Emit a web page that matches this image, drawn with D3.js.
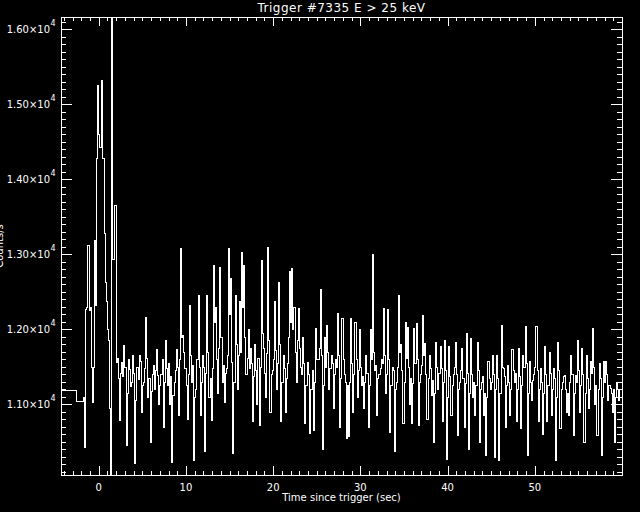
<!DOCTYPE html>
<html>
<head>
<meta charset="UTF-8">
<script src="https://d3js.org/d3.v7.min.js"></script>
<style>
  body { margin:0; background:#000; }
  svg text { fill:#fff; font-family:"DejaVu Sans", sans-serif; }
</style>
</head>
<body>
<svg></svg>
<script>
// pre-trigger coarse bins (edges in sec, rates)
var coarseEdges = [-4.33, -2.62, -1.8];
var coarseRates = [11185, 11043];

// fine bins start at binStart, each binWidth sec
var binStart = -1.8;
var binWidth = 0.125;
var rates = [
  // burst
  11100, 10430, 12270, 12300, 13120, 12250, 12300, 11500, 11030, 11500,
  13190, 12320, 14280, 15250, 14600, 14430, 15320, 14280, 14280, 13280,
  12630, 12370, 12000, 11860, 10950, 9500, 17000, 12930, 13660, 13660,
  11560,
  // 2 - 11 s
  11610, 11350, 10790, 11420, 11560, 11380, 11790, 11500, 10460, 11150,
  11600, 11470, 11240, 11300, 11650, 11420, 10210, 11050, 11500, 11330,
  11650, 11580, 10900, 11250, 11300, 11480, 12160, 11620, 11100, 11350,
  10500, 11180, 11400, 11520, 11200, 11450, 11740, 11390, 11000, 11260,
  11400, 11600, 10700, 11300, 11850, 11480, 11250, 11550, 11000, 11380,
  10230, 11120, 11300, 11450, 11740, 11500, 10850, 11600, 13080, 11900,
  11920, 11700, 11480, 11250, 10800, 11400, 12320, 11650, 11300, 11520,
  10250, 11100, 11200, 11600, 12450, 11500, 10850, 11300,
  // 11 - 28 s
  11660, 11500, 10370, 11420, 12460, 11700, 11100, 11350, 10790, 11480,
  12860, 12100, 12300, 11600, 11150, 11750, 12830, 11900, 11300, 11520,
  11030, 11420, 11480, 11650, 13080, 12200, 12680, 11560, 10350, 11300,
  12460, 11800, 11200, 11650, 12370, 11700, 13030, 12300, 12850, 11900,
  11400, 11620, 12000, 11480, 11750, 11550, 10770, 11380, 11800, 11450,
  11000, 11620, 10720, 11500, 12920, 11950, 11750, 11420, 11100, 11680,
  13100, 11850, 10900, 11400, 11450, 11600, 12370, 11720, 11200, 11550,
  12630, 11800, 10770, 11300, 11660, 11480, 10900, 11350, 11550, 11900,
  12770, 12100, 12810, 12000, 12300, 11700, 11300, 11850, 12280, 11750,
  11500, 11400, 11900, 11550, 10750, 11250, 11560, 11400, 10610, 11200,
  11200, 11450, 10660, 11300, 12010, 11600, 11600, 11750, 12540, 11650,
  10400, 11250, 11900, 11500, 12050, 11700, 11200, 11480, 11650, 11550,
  10950, 11400, 11600, 11500, 12210, 11650, 10700, 11350, 12150, 11600,
  11400, 11300, 10550, 11250,
  // 28 - 44 s
  10570, 11300, 12150, 11550, 10900, 11400, 12100, 11600, 11100, 11450,
  12000, 11500, 11250, 11380, 10950, 11300, 11650, 11420, 10700, 11250,
  12000, 11600, 13000, 11700, 11450, 11520, 10850, 11350, 11400, 11480,
  11600, 11550, 12280, 11650, 11150, 11400, 12270, 11600, 10630, 11250,
  11500, 11450, 10370, 11200, 11300, 11500, 12460, 11700, 11800, 11450,
  10750, 11300, 12100, 11620, 12030, 11500, 11000, 11350, 10750, 11280,
  12010, 11550, 12080, 11600, 10720, 11300, 11400, 11520, 12190, 11650,
  11820, 11400, 10800, 11350, 11650, 11480, 11120, 11320, 10500, 11150,
  11830, 11500, 11200, 11420, 11780, 11480, 10780, 11300, 11850, 11450,
  10270, 11100, 11780, 11380, 10850, 11250, 11400, 11500, 11830, 11400,
  10590, 11200, 11300, 11450, 11750, 11350, 10700, 11280, 11950, 11420,
  10400, 11150, 11880, 11400, 11100, 11300, 10850, 11250, 11830, 11450,
  10500, 11200, 11300, 11380, 10860, 11150, 10320, 11100, 11570, 11350,
  11200, 11300,
  // 44 - 60 s
  11650, 11400, 10300, 11200, 11660, 11350, 10250, 11150, 12050, 11500,
  11480, 11380, 10700, 11250, 11520, 11300, 10860, 11200, 11740, 11450,
  11300, 11420, 10770, 11200, 11750, 11380, 10680, 11250, 11650, 11500,
  12040, 11550, 10320, 11150, 11570, 11300, 11050, 11320, 11400, 11500,
  12040, 11450, 10770, 11200, 11480, 11300, 10600, 11150, 11770, 11400,
  10770, 11250, 11700, 11420, 10860, 11200, 11480, 11350, 10260, 11100,
  11830, 11450, 10680, 11200, 11300, 11380, 11390, 11200, 10900, 11150,
  10860, 11300, 11650, 11400, 10590, 11150, 11390, 11300, 11850, 11450,
  10900, 11250, 11750, 11400, 10500, 11150, 11650, 11350, 10950, 11200,
  11570, 11420, 12010, 11500, 11000, 11250, 10590, 11200, 11550, 11350,
  10320, 11100, 11570, 11300, 11570, 11400, 11050, 11250, 11210, 11150,
  10900, 11200, 10500, 11100, 11300, 11200, 11050, 11200
];

var xDomain = [-4.33, 60.0];
var yDomain = [10056, 16160];
var xMajor = [0, 10, 20, 30, 40, 50];
var yMajor = [11000, 12000, 13000, 14000, 15000, 16000];
var yLabels = ["1.10", "1.20", "1.30", "1.40", "1.50", "1.60"];

var width = 640, height = 512;
var pL = 61, pR = 622, pT = 17, pB = 475;

var svg = d3.select("svg").attr("width", width).attr("height", height);
svg.append("rect").attr("width", width).attr("height", height).attr("fill", "#000");

var x = d3.scaleLinear().domain(xDomain).range([pL, pR]);
var y = d3.scaleLinear().domain(yDomain).range([pB, pT]);

// build step points
var pts = [];
coarseRates.forEach(function(r, i) { pts.push([coarseEdges[i], r]); });
rates.forEach(function(r, i) { pts.push([binStart + i * binWidth, r]); });
pts.push([xDomain[1], rates[rates.length - 1]]);

svg.append("clipPath").attr("id", "clip")
  .append("rect").attr("x", pL).attr("y", pT)
  .attr("width", pR - pL).attr("height", pB - pT);

var line = d3.line()
  .x(function(d) { return Math.round(x(d[0])) + 0.5; })
  .y(function(d) { return Math.round(y(d[1])) + 0.5; })
  .curve(d3.curveStepAfter);

svg.append("path")
  .datum(pts)
  .attr("clip-path", "url(#clip)")
  .attr("fill", "none")
  .attr("stroke", "#fff")
  .attr("stroke-width", 1)
  .attr("shape-rendering", "crispEdges")
  .attr("d", line);

// frame
svg.append("rect")
  .attr("x", pL + 0.5).attr("y", pT + 0.5)
  .attr("width", pR - pL).attr("height", pB - pT)
  .attr("fill", "none").attr("stroke", "#fff").attr("shape-rendering", "crispEdges");

// x ticks (top and bottom, inward)
var xMinor = d3.range(-4, 61, 1);
var tg = svg.append("g").attr("stroke", "#fff").attr("shape-rendering", "crispEdges");
xMinor.forEach(function(t) {
  var len = (t % 10 === 0) ? 9 : 4;
  var px = Math.round(x(t)) + 0.5;
  tg.append("line").attr("x1", px).attr("x2", px).attr("y1", pB).attr("y2", pB - len);
  tg.append("line").attr("x1", px).attr("x2", px).attr("y1", pT).attr("y2", pT + len);
});
// y ticks (left and right, inward)
var yMinor = d3.range(10100, 16200, 100);
yMinor.forEach(function(v) {
  var len = (v % 1000 === 0) ? 11 : 5;
  var py = Math.round(y(v)) + 0.5;
  tg.append("line").attr("x1", pL).attr("x2", pL + len).attr("y1", py).attr("y2", py);
  tg.append("line").attr("x1", pR).attr("x2", pR - len).attr("y1", py).attr("y2", py);
});

// x tick labels
xMajor.forEach(function(t) {
  svg.append("text").attr("x", x(t)).attr("y", 491)
    .attr("text-anchor", "middle").style("font-size", "10px").text(t);
});

// y tick labels
yMajor.forEach(function(v, i) {
  svg.append("text").attr("x", 50).attr("y", y(v) + 4)
    .attr("text-anchor", "end").style("font-size", "10px")
    .text(yLabels[i] + "\u00d710");
  svg.append("text").attr("x", 50.5).attr("y", y(v) - 3)
    .style("font-size", "8px").text("4");
});

// title and axis titles
svg.append("text").attr("x", (pL + pR) / 2).attr("y", 12)
  .attr("text-anchor", "middle").style("font-size", "12px")
  .style("letter-spacing", "0.5px")
  .text("Trigger #7335 E > 25 keV");
svg.append("text").attr("x", (pL + pR) / 2).attr("y", 501)
  .attr("text-anchor", "middle").style("font-size", "10px")
  .text("Time since trigger (sec)");
svg.append("text")
  .attr("transform", "translate(3,246) rotate(-90)")
  .attr("text-anchor", "middle").style("font-size", "10px")
  .text("Counts/s");
</script>
</body>
</html>
